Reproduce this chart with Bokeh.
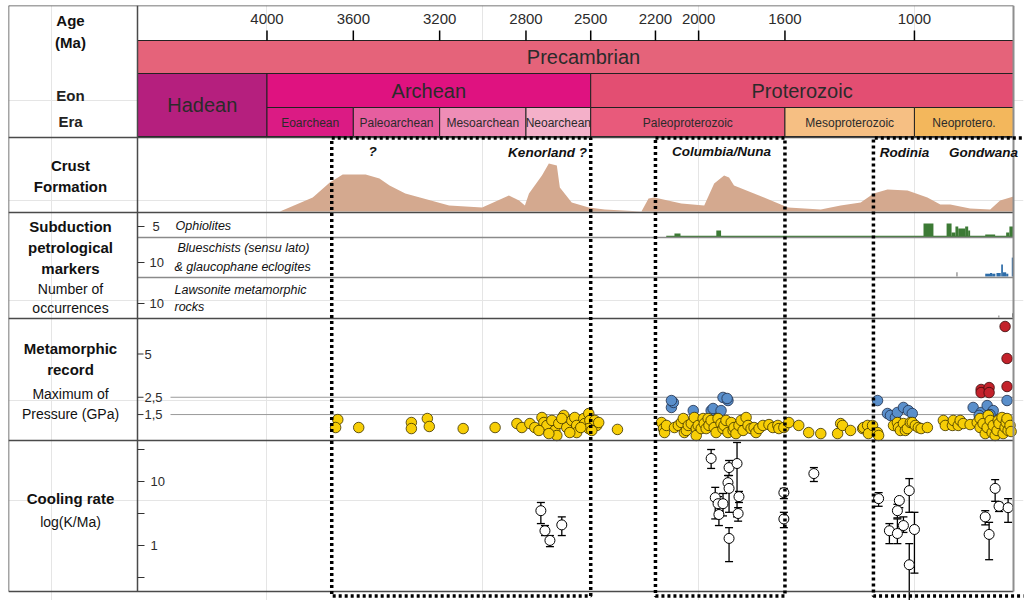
import math
from bokeh.plotting import figure
from bokeh.models import Range1d, LogScale
from bokeh.core.properties import value
from bokeh.embed import file_html
from bokeh.resources import INLINE

# ---------------------------------------------------------------- data
# Geologic time scale (Ma)
age_ticks = [4000, 3600, 3200, 2800, 2500, 2200, 2000, 1600, 1000]

supereon_names = ["Precambrian"]
supereon_start = [4600]
supereon_end = [541]

eon_names = ["Hadean", "Archean", "Proterozoic"]
eon_start = [4600, 4000, 2500]
eon_end = [4000, 2500, 541]

era_names = ["Eoarchean", "Paleoarchean", "Mesoarchean", "Neoarchean",
             "Paleoproterozoic", "Mesoproterozoic", "Neoprotero."]
era_start = [4000, 3600, 3200, 2800, 2500, 1600, 1000]
era_end = [3600, 3200, 2800, 2500, 1600, 1000, 541]

# Crust formation curve (relative volume)
crust_age = [3940, 3788, 3709, 3649, 3543, 3479, 3432, 3359, 3156, 3003, 2879,
             2832, 2805, 2786, 2726, 2694, 2657, 2643, 2588, 2509, 2435, 2265,
             2232, 2205, 2080, 1974, 1928, 1882, 1859, 1836, 1697, 1586, 1434,
             1342, 1249, 1189, 1125, 1032, 940, 880, 834, 742, 649, 603, 541]
crust_rel = [0, 14, 29, 37, 37, 33, 26, 18, 6, 4, 16,
             11, 6, 18, 36, 48, 46, 24, 9, 4, 2, 0,
             13, 14, 8, 6, 28, 36, 34, 26, 14, 4, 2,
             6, 9, 18, 22, 21, 14, 7, 7, 3, 2, 11, 15]

# Subduction markers: histogram bins (older edge, younger edge, occurrences)
oph_old = [2112, 1918, 958, 851, 828, 810, 797, 765, 751, 672, 575, 560]
oph_young = [2084, 1896, 912, 828, 810, 797, 765, 751, 742, 626, 560, 541]
oph_count = [1.5, 3, 6.5, 6.5, 2, 5, 4, 5, 3, 1, 2, 5]
oph_record_start = 2150

blue_old = [806, 672, 650, 640, 620, 598, 590, 575, 549]
blue_young = [800, 650, 640, 625, 600, 590, 575, 565, 541]
blue_count = [3, 2, 2.5, 2, 2.5, 8.5, 3, 2, 13.5]
blue_kind = ["other", "bs", "bs", "bs", "bs", "bs", "bs", "bs", "bs"]

laws_old = [612, 547]
laws_young = [606, 541]
laws_count = [1.5, 3]

# Metamorphic record: maximum pressure (GPa)
yellow_age = [3672, 3682, 3575, 3331, 3331, 3257, 3248, 3091, 2943, 2842,
              2819, 2782, 2759, 2726, 2717, 2703, 2680, 2666, 2657, 2648,
              2625, 2611, 2588, 2574, 2565, 2565, 2532, 2528, 2509, 2504,
              2486, 2472, 2509, 2481, 2740, 2694, 2634, 2597, 2546, 2495, 2463,
              2376,
              2172, 2163, 2158, 2149, 2112, 2094, 2080, 2071, 2066, 2057, 2048,
              2034, 2020, 2011, 2011, 2002, 1988, 1979, 1974, 1965, 1956, 1952,
              1942, 1928, 1919, 1910, 1896, 1887, 1882, 1873, 1864, 1849, 1840,
              1836, 1827, 1813, 1803, 1794, 1780, 1771, 1757, 1743, 1734, 1720,
              1702, 1674, 1656, 1633, 1628, 1605, 1582,
              1536, 1490, 1434, 1356, 1342, 1333, 1296, 1240, 1236, 1217, 1213,
              1194, 1171, 1166,
              1097, 1079, 1074, 1065, 1051, 1042, 1033, 1019, 1010, 996, 982,
              969, 940, 866, 857, 824, 820, 797, 788, 774, 742,
              709, 696, 696, 682, 672, 663, 658, 649, 640, 635, 626, 617, 612,
              608, 594, 589, 580, 575, 571, 566, 557, 552]
yellow_p = [1.21, 0.75, 0.75, 1.04, 0.69, 1.27, 0.81, 0.69, 0.75, 0.98,
            0.75, 0.98, 0.75, 1.33, 1.04, 0.87, 1.16, 0.58, 0.29, 0.98,
            1.45, 0.75, 1.16, 1.33, 0.87, 0.46, 1.27, 0.98, 1.56, 1.16,
            0.87, 0.87, 0.69, 1.16, 0.58, 0.40, 1.27, 0.46, 0.75, 0.58, 1.04,
            0.64,
            1.04, 0.69, 0.46, 0.87, 0.75, 0.87, 1.04, 1.27, 0.46, 0.58, 0.87,
            0.98, 1.33, 0.69, 0.29, 0.87, 0.69, 1.27, 0.98, 0.69, 1.27, 0.87,
            1.16, 0.75, 0.46, 1.27, 0.98, 0.69, 0.87, 1.16, 0.46, 1.04, 0.58,
            0.75, 0.40, 0.87, 1.16, 0.58, 1.33, 0.87, 0.69, 0.75, 0.46, 0.69,
            0.87, 0.92, 0.75, 0.87, 0.69, 0.75, 1.04,
            0.87, 0.46, 0.40, 0.40, 0.98, 0.87, 0.58, 0.69, 0.75, 0.87, 0.40,
            0.87, 0.46, 0.29,
            0.87, 1.04, 0.75, 0.58, 0.98, 0.58, 0.69, 1.04, 1.04, 0.87, 0.75,
            0.69, 0.75, 1.16, 0.87, 0.87, 1.16, 0.87, 1.16, 0.98, 0.92,
            1.04, 1.27, 0.75, 0.98, 0.40, 0.75, 1.45, 1.16, 0.46, 0.87, 0.29, 0.58, 1.16,
            0.98, 1.33, 0.40, 0.75, 1.04, 1.27, 0.58, 0.87, 0.52]

blue_dot_age = [2126, 2117, 2126, 2025, 1942, 1933, 1896, 1887, 1864, 1868,
                1171, 1125, 1111, 1088, 1079, 1051, 1028, 1010,
                728, 691, 663, 635, 571, 700, 650]
blue_dot_p = [1.91, 2.20, 2.31, 1.73, 1.73, 1.85, 1.73, 2.49, 2.31, 2.43,
              2.31, 1.56, 1.45, 1.33, 1.62, 1.91, 1.73, 1.56,
              1.91, 1.62, 2.02, 1.73, 2.31, 1.45, 1.50]

red_dot_age = [691, 691, 654, 654, 580, 571, 571]
red_dot_p = [2.95, 2.77, 3.06, 2.77, 6.59, 4.74, 3.12]

# Cooling rates (K/Ma) with ranges
cool_age = [2731, 2712, 2689, 2634, 1942, 1923, 1910, 1887, 1906, 1864, 1859,
            1859, 1822, 1813, 1817, 1859, 1605, 1605, 1466, 1166, 1070, 1079,
            1116, 1079, 1051, 1024, 1000, 1024, 672, 654, 626, 608, 566]
cool_rate = [3.5, 1.7, 1.2, 2.1, 22.9, 5.6, 4.5, 4.5, 3.05, 9.6, 16.5,
             7.8, 19.1, 5.8, 3.16, 1.29, 6.7, 2.6, 13.3, 5.4, 5.05, 3.5,
             1.7, 1.54, 2.05, 7.2, 1.78, 0.50, 2.8, 1.49, 7.8, 4.1, 3.9]
cool_high = [4.7, 2.05, 1.43, 2.8, 31.6, 8.1, 5.8, 6.5, 3.5, 12.4, 21.3,
             9.3, 40.7, 7.0, 3.9, 1.9, 7.8, 3.3, 16.5, 6.7, 5.6, 4.4,
             2.2, 2.6, 2.8, 11.1, 3.3, 1.07, 3.5, 2.3, 10.7, 4.7, 5.4]
cool_low = [2.2, 1.43, 0.96, 1.43, 16.0, 2.6, 3.05, 2.9, 2.05, 7.8, 12.4,
            3.3, 2.8, 4.7, 2.4, 0.56, 5.4, 1.9, 10.0, 4.1, 3.9, 2.7,
            1.07, 1.07, 1.6, 3.3, 0.37, 0.09, 2.1, 0.60, 4.9, 3.4, 2.3]

# Supercontinent windows (Ma); None = open towards the present
window_old = [3700, 2200, 1190]
window_young = [2500, 1600, None]

# Axis ticks of the panels
oph_ticks, oph_tick_labels = [5], ["5"]
blue_ticks, blue_tick_labels = [10], ["10"]
laws_ticks, laws_tick_labels = [10], ["10"]
meta_ticks, meta_tick_labels = [5, 2.5, 1.5], ["5", "2,5", "1,5"]
meta_ref_lines = [2.5, 1.5]
cool_ticks = [10 ** 1.5, 10, 10 ** 0.5, 1, 10 ** -0.5]
cool_tick_labels = ["", "10", "", "1", ""]

# ---------------------------------------------------------------- layout
W, H = 1028, 600
FRAME_L, FRAME_R, FRAME_T, FRAME_B = 8, 1023, 5, 600
COL_R, PLOT_R = 137, 1013
AGE_TOP_Y, AGE_BOT_Y = 30, 40
SUPEREON = (40, 73)
EON = (73, 107)
ERA = (107, 136)
ROW_LINES = [137, 212, 318, 440, 591]
SUB_LINES = [237, 277]
BOTTOM = 591

FONT = value("Liberation Sans")
TXT = "#2b2b2b"

ma_per_px = (supereon_start[0] - supereon_end[0]) / (PLOT_R - COL_R)
x_range = Range1d(supereon_start[0] + (COL_R - FRAME_L) * ma_per_px,
                  supereon_end[0] - (FRAME_R - PLOT_R) * ma_per_px)


def band_range(v_lo, px_lo, v_hi, px_hi):
    per_px = (v_hi - v_lo) / (px_lo - px_hi)
    return Range1d(start=v_lo - (FRAME_B - px_lo) * per_px,
                   end=v_hi + (px_hi - FRAME_T) * per_px)


def log_band_range(v_lo, px_lo, v_hi, px_hi):
    r = band_range(math.log10(v_lo), px_lo, math.log10(v_hi), px_hi)
    return Range1d(start=10 ** r.start, end=10 ** r.end)


p = figure(width=W, height=H, x_range=x_range, y_range=Range1d(FRAME_B, FRAME_T),
           x_axis_location=None, y_axis_location=None, toolbar_location=None, tools="",
           output_backend="svg", min_border_left=FRAME_L, min_border_right=W - FRAME_R,
           min_border_top=FRAME_T, min_border_bottom=H - FRAME_B)
p.outline_line_color = None
p.background_fill_color = "white"
p.border_fill_color = "white"
p.extra_x_ranges = {"lx": Range1d(FRAME_L, FRAME_R)}
p.extra_y_ranges = {
    "crust": band_range(0, 211, 50, 161),
    "oph": band_range(0, 236, 5, 226),
    "blue": band_range(0, 276, 10, 262),
    "laws": band_range(0, 317, 10, 303),
    "meta": band_range(0, 440, 5, 353.5),
    "cool": log_band_range(1, 545, 10, 481),
}
p.extra_y_scales = {"cool": LogScale()}

# ---------------------------------------------------------------- time scale bars
p.quad(left=supereon_start, right=supereon_end, top=[SUPEREON[0]], bottom=[SUPEREON[1]],
       fill_color="#E5637A", line_color="#222222", line_width=1)
eon_colors = ["#B51F7E", "#DF1280", "#E34E72"]
eon_bottom = [ERA[1] if not any(eon_end[i] <= s < eon_start[i] + 1 and e >= eon_end[i]
                                for s, e in zip(era_start, era_end)) else EON[1]
              for i in range(len(eon_names))]
p.quad(left=eon_start, right=eon_end, top=[EON[0]] * 3, bottom=eon_bottom,
       fill_color=eon_colors, line_color="#222222", line_width=1)
era_colors = ["#DB1B84", "#E65E9F", "#EE8DB6", "#F4B0C9", "#E85A7B", "#F6BF83", "#F3B75C"]
p.quad(left=era_start, right=era_end, top=[ERA[0]] * 7, bottom=[ERA[1]] * 7,
       fill_color=era_colors, line_color="#222222", line_width=1)

mid = lambda a, b: [(x + y) / 2 for x, y in zip(a, b)]
p.text(x=mid(supereon_start, supereon_end), y=[(SUPEREON[0] + SUPEREON[1]) / 2],
       text=supereon_names, text_align="center", text_baseline="middle", x_offset=8,
       text_font=FONT, text_font_size="20px", text_color=TXT)
p.text(x=mid(eon_start, eon_end), y=[(EON[0] + b) / 2 for b in eon_bottom],
       text=eon_names, text_align="center", text_baseline="middle",
       text_font=FONT, text_font_size="20px", text_color=TXT)
p.text(x=mid(era_start, era_end), y=[(ERA[0] + ERA[1]) / 2 + 1] * 7, text=era_names,
       text_align="center", text_baseline="middle", text_font=FONT,
       text_font_size="12px", text_color=TXT)

# Age axis
p.segment(x0=age_ticks, x1=age_ticks, y0=[AGE_TOP_Y] * len(age_ticks),
          y1=[AGE_BOT_Y] * len(age_ticks), line_color="black", line_width=1.5)
p.text(x=age_ticks, y=[18] * len(age_ticks), text=[str(t) for t in age_ticks],
       text_align="center", text_baseline="middle", text_font=FONT,
       text_font_size="15px", text_color=TXT)

# ---------------------------------------------------------------- crust formation
p.varea(x=crust_age, y1=[0] * len(crust_age), y2=crust_rel, y_range_name="crust",
        fill_color="#D4A98F")

# ---------------------------------------------------------------- subduction markers
p.segment(x0=[oph_record_start], x1=[supereon_end[0]], y0=[0], y1=[0], y_range_name="oph",
          line_color="#3C7A35", line_width=1.5)
p.quad(left=oph_old, right=oph_young, bottom=[0] * len(oph_old), top=oph_count,
       y_range_name="oph", fill_color="#3C7A35", line_color=None)
p.quad(left=blue_old, right=blue_young, bottom=[0] * len(blue_old), top=blue_count,
       y_range_name="blue", line_color=None,
       fill_color=["#2E6DA9" if k == "bs" else "#8C8C8C" for k in blue_kind])
p.quad(left=laws_old, right=laws_young, bottom=[0] * len(laws_old), top=laws_count,
       y_range_name="laws", line_color=None, fill_color=["#9A9A9A", "#555555"])

# ---------------------------------------------------------------- metamorphic record
for v in meta_ref_lines:
    p.segment(x0=[170], x1=[PLOT_R], y0=[v], y1=[v], x_range_name="lx",
              y_range_name="meta", line_color="#9A9A9A", line_width=1)
p.scatter(blue_dot_age, blue_dot_p, y_range_name="meta", size=10.5,
          fill_color="#5A8FCB", line_color="#1F2F4A", line_width=0.8)
p.scatter(yellow_age, yellow_p, y_range_name="meta", size=10.5,
          fill_color="#F7CE06", line_color="#3A3000", line_width=0.8)
p.scatter(red_dot_age, red_dot_p, y_range_name="meta", size=10.5,
          fill_color="#C3222B", line_color="#3A0A0A", line_width=0.8)

# ---------------------------------------------------------------- cooling rates
p.segment(x0=cool_age, x1=cool_age, y0=cool_low, y1=cool_high, y_range_name="cool",
          line_color="black", line_width=1.3)
p.scatter(cool_age + cool_age, cool_low + cool_high, y_range_name="cool",
          marker="dash", size=8, line_color="black", line_width=1.3)
p.scatter(cool_age, cool_rate, y_range_name="cool", size=10,
          fill_color="white", line_color="black", line_width=1)

# ---------------------------------------------------------------- panel frames
p.segment(x0=[FRAME_L] * 6, x1=[PLOT_R] * 6, y0=[FRAME_T] + ROW_LINES,
          y1=[FRAME_T] + ROW_LINES, x_range_name="lx", line_color="#4A4A4A", line_width=1.5)
p.segment(x0=[COL_R] * 2, x1=[PLOT_R] * 2, y0=SUB_LINES, y1=SUB_LINES,
          x_range_name="lx", line_color="#8A8A8A", line_width=1.5)
p.segment(x0=[FRAME_L, COL_R], x1=[FRAME_L, COL_R], y0=[FRAME_T] * 2, y1=[BOTTOM] * 2,
          x_range_name="lx", line_color="#4A4A4A", line_width=1.5)
p.segment(x0=[PLOT_R], x1=[PLOT_R], y0=[FRAME_T], y1=[BOTTOM], x_range_name="lx",
          line_color="#8E8E8E", line_width=2)

# Panel ticks
def panel_ticks(vals, labels, rng, tick_len, label_x):
    p.segment(x0=[COL_R] * len(vals), x1=[COL_R + tick_len] * len(vals), y0=vals, y1=vals,
              x_range_name="lx", y_range_name=rng, line_color="#333333", line_width=1)
    p.text(x=[label_x] * len(vals), y=vals, text=labels, x_range_name="lx",
           y_range_name=rng, text_align="left", text_baseline="middle",
           text_font=FONT, text_font_size="13px", text_color=TXT)

panel_ticks(oph_ticks, oph_tick_labels, "oph", 7, 152)
panel_ticks(blue_ticks, blue_tick_labels, "blue", 7, 149)
panel_ticks(laws_ticks, laws_tick_labels, "laws", 7, 149)
panel_ticks(meta_ticks, meta_tick_labels, "meta", 6, 144)
panel_ticks(cool_ticks, cool_tick_labels, "cool", 7, 150)

# ---------------------------------------------------------------- supercontinent windows
for old, young in zip(window_old, window_young):
    top, bot = 137.5, 595.5
    if young is None:
        far = x_range.end - 20
        xs, ys = [far, old, old, far], [top, top, bot, bot]
    else:
        xs, ys = [old, young, young, old, old], [top, top, bot, bot, top]
    p.line(xs, ys, line_color="black", line_width=3.5, line_dash="3 3")

# ---------------------------------------------------------------- texts
def texts(items, style, size, align="center", color="#111111"):
    p.text(x=[i[0] for i in items], y=[i[1] for i in items], text=[i[2] for i in items],
           x_range_name="lx", text_align=align, text_baseline="middle", text_font=FONT,
           text_font_style=style, text_font_size=size, text_color=color)

LX = 70
texts([(LX, 20, "Age"), (LX, 42, "(Ma)"), (LX, 165, "Crust"), (LX, 186, "Formation"),
       (LX, 226, "Subduction"), (LX, 247, "petrological"), (LX, 268, "markers"),
       (LX, 348, "Metamorphic"), (LX, 369, "record"), (LX, 498, "Cooling rate")],
      "bold", "15px")
texts([(LX, 95, "Eon"), (LX, 121, "Era")], "bold", "15px", color="#222222")
texts([(LX, 288, "Number of"), (LX, 307, "occurrences"),
       (LX, 393, "Maximum of"), (LX, 413, "Pressure (GPa)"), (LX, 521, "log(K/Ma)")],
      "normal", "14px")
texts([(175, 225, "Ophiolites"), (177, 247, "Blueschists (sensu lato)"),
       (174, 266, "& glaucophane eclogites"), (174, 289, "Lawsonite metamorphic"),
       (174, 306, "rocks")], "italic", "12.5px", align="left")
texts([(372, 151, "?"), (547, 152, "Kenorland ?"), (721, 151, "Columbia/Nuna"),
       (904, 152, "Rodinia"), (983, 152, "Gondwana")], "bold italic", "13.5px")

html = file_html(p, INLINE)
html = html.replace("</head>",
                    "<style>html, body { margin: 0; padding: 0; overflow: hidden; }</style></head>", 1)
open("out.html", "w").write(html)
